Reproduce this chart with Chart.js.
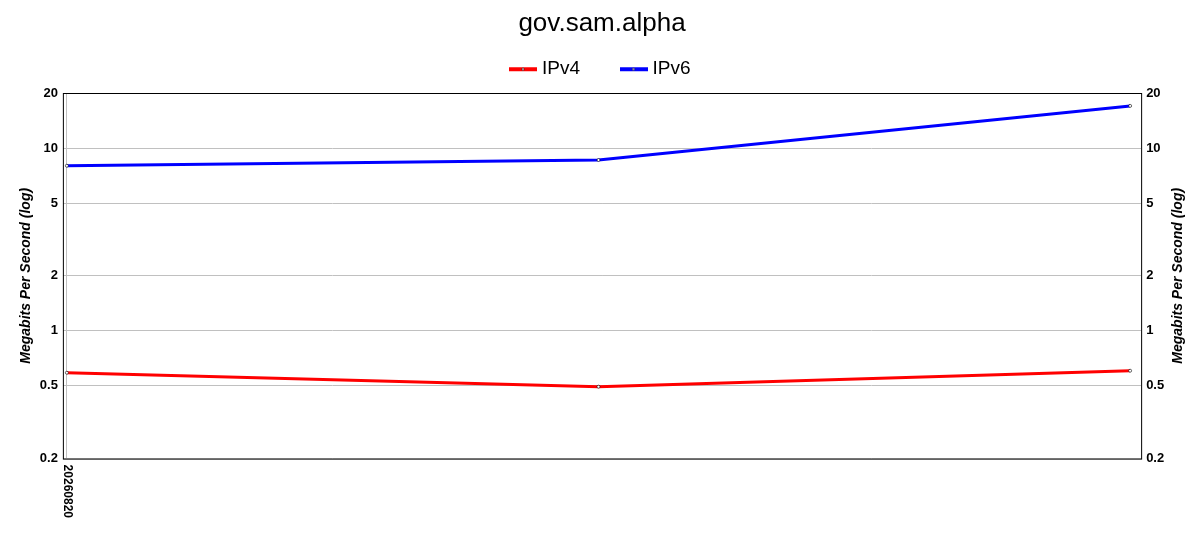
<!DOCTYPE html>
<html>
<head>
<meta charset="utf-8">
<script src="https://cdn.jsdelivr.net/npm/chart.js@4"></script>
<style>
  html, body { margin: 0; padding: 0; background: #fff; }
  #wrap { width: 1200px; height: 550px; }
</style>
</head>
<body>
<div id="wrap"><canvas id="speedChart"></canvas></div>
<script>
// chart data
const dates = ['20260820', '20260820', '20260820'];
const ipv4Values = [0.59, 0.495, 0.605];
const ipv6Values = [8.0, 8.6, 17.0];
const yTicks = [0.2, 0.5, 1, 2, 5, 10, 20];

const FONT = "'Liberation Sans', Arial, sans-serif";
const AXIS_TITLE = 'Megabits Per Second (log)';
const titleFont = 'italic bold 14px ' + FONT;

// legend swatch: a line with a small dot in the middle
function swatch(color) {
  const c = document.createElement('canvas');
  c.width = 28; c.height = 8;
  const g = c.getContext('2d');
  g.strokeStyle = color; g.lineWidth = 4;
  g.beginPath(); g.moveTo(0, 4); g.lineTo(28, 4); g.stroke();
  g.fillStyle = '#fff'; g.strokeStyle = '#000'; g.lineWidth = 0.6;
  g.beginPath(); g.arc(14, 4, 1.2, 0, Math.PI * 2); g.fill(); g.stroke();
  return c;
}

function toPoints(values) {
  return values.map((v, i) => ({ x: i, y: v }));
}

// border around the plot, x labels written top-to-bottom, right axis title
const framePlugin = {
  id: 'frame',
  afterDraw(chart) {
    const { ctx, chartArea } = chart;
    const xs = chart.scales.x;
    const y2 = chart.scales.y2;
    ctx.save();
    ctx.strokeStyle = '#000';
    ctx.lineWidth = 1;
    ctx.strokeRect(chartArea.left + 0.5, chartArea.top + 0.5,
      chartArea.right - chartArea.left, chartArea.bottom - chartArea.top);

    ctx.fillStyle = '#000';
    ctx.font = 'bold 12px ' + FONT;
    ctx.textAlign = 'left';
    ctx.textBaseline = 'middle';
    let prev = null;
    dates.forEach((d, i) => {
      if (d === prev) return;
      prev = d;
      const px = xs.getPixelForValue(i);
      ctx.save();
      ctx.translate(px, chartArea.bottom + 6);
      ctx.rotate(Math.PI / 2);
      ctx.fillText(d, 0, 0);
      ctx.restore();
    });

    ctx.font = titleFont;
    ctx.textAlign = 'center';
    ctx.save();
    ctx.translate(y2.right - 8, (chartArea.top + chartArea.bottom) / 2);
    ctx.rotate(-Math.PI / 2);
    ctx.fillText(AXIS_TITLE, 0, 0);
    ctx.restore();
    ctx.restore();
  }
};

const yAxis = (pos) => ({
  type: 'logarithmic',
  position: pos,
  min: 0.2,
  max: 20,
  afterBuildTicks: (s) => { s.ticks = yTicks.map(v => ({ value: v })); },
  ticks: {
    color: '#000',
    font: { family: FONT, size: 13, weight: 'bold' },
    padding: 5,
    callback: (v) => String(v)
  },
  grid: { display: pos === 'left', color: '#c0c0c0', drawTicks: false },
  border: { display: false },
  title: {
    display: true,
    text: AXIS_TITLE,
    color: pos === 'left' ? '#000' : 'rgba(0,0,0,0)',
    font: { family: FONT, size: 14, weight: 'bold', style: 'italic' },
    padding: { top: 0, bottom: 0 }
  }
});

new Chart(document.getElementById('speedChart'), {
  type: 'line',
  data: {
    datasets: [
      {
        label: 'IPv4',
        data: toPoints(ipv4Values),
        borderColor: '#ff0000',
        backgroundColor: '#ff0000',
        borderWidth: 3,
        pointRadius: 1.5,
        pointBackgroundColor: '#fff',
        pointBorderColor: '#000',
        pointBorderWidth: 0.6,
        yAxisID: 'y',
        legendStyle: swatch('#ff0000')
      },
      {
        label: 'IPv6',
        data: toPoints(ipv6Values),
        borderColor: '#0000ff',
        backgroundColor: '#0000ff',
        borderWidth: 3,
        pointRadius: 1.5,
        pointBackgroundColor: '#fff',
        pointBorderColor: '#000',
        pointBorderWidth: 0.6,
        yAxisID: 'y',
        legendStyle: swatch('#0000ff')
      }
    ]
  },
  options: {
    responsive: true,
    maintainAspectRatio: false,
    animation: false,
    layout: { padding: { left: 18, right: 14, top: 0, bottom: 32 } },
    plugins: {
      title: {
        display: true,
        text: 'gov.sam.alpha',
        color: '#000',
        font: { family: FONT, size: 26, weight: 'normal' },
        padding: { top: 8, bottom: -23.5 }
      },
      // empty spacer between the legend and the plot
      subtitle: {
        display: true,
        text: ' ',
        weight: 500,
        font: { size: 4.3, lineHeight: 1 },
        padding: 0
      },
      legend: {
        position: 'top',
        labels: {
          color: '#000',
          font: { family: FONT, size: 19 },
          usePointStyle: true,
          padding: 44,
          generateLabels: (chart) => chart.data.datasets.map((ds, i) => ({
            text: ds.label,
            pointStyle: ds.legendStyle,
            fontColor: '#000',
            datasetIndex: i,
            hidden: !chart.isDatasetVisible(i)
          }))
        }
      },
      tooltip: { enabled: false }
    },
    scales: {
      x: {
        type: 'linear',
        min: -0.0075,
        max: 2.0207,
        afterBuildTicks: (s) => { s.ticks = [{ value: 0 }]; },
        ticks: {
          color: 'rgba(0,0,0,0)',
          font: { family: FONT, size: 12, weight: 'bold' },
          maxRotation: 90,
          minRotation: 90,
          callback: () => dates[0]
        },
        grid: { color: '#c0c0c0', drawTicks: false },
        border: { display: false }
      },
      y: yAxis('left'),
      y2: yAxis('right')
    }
  },
  plugins: [framePlugin]
});
</script>
</body>
</html>
